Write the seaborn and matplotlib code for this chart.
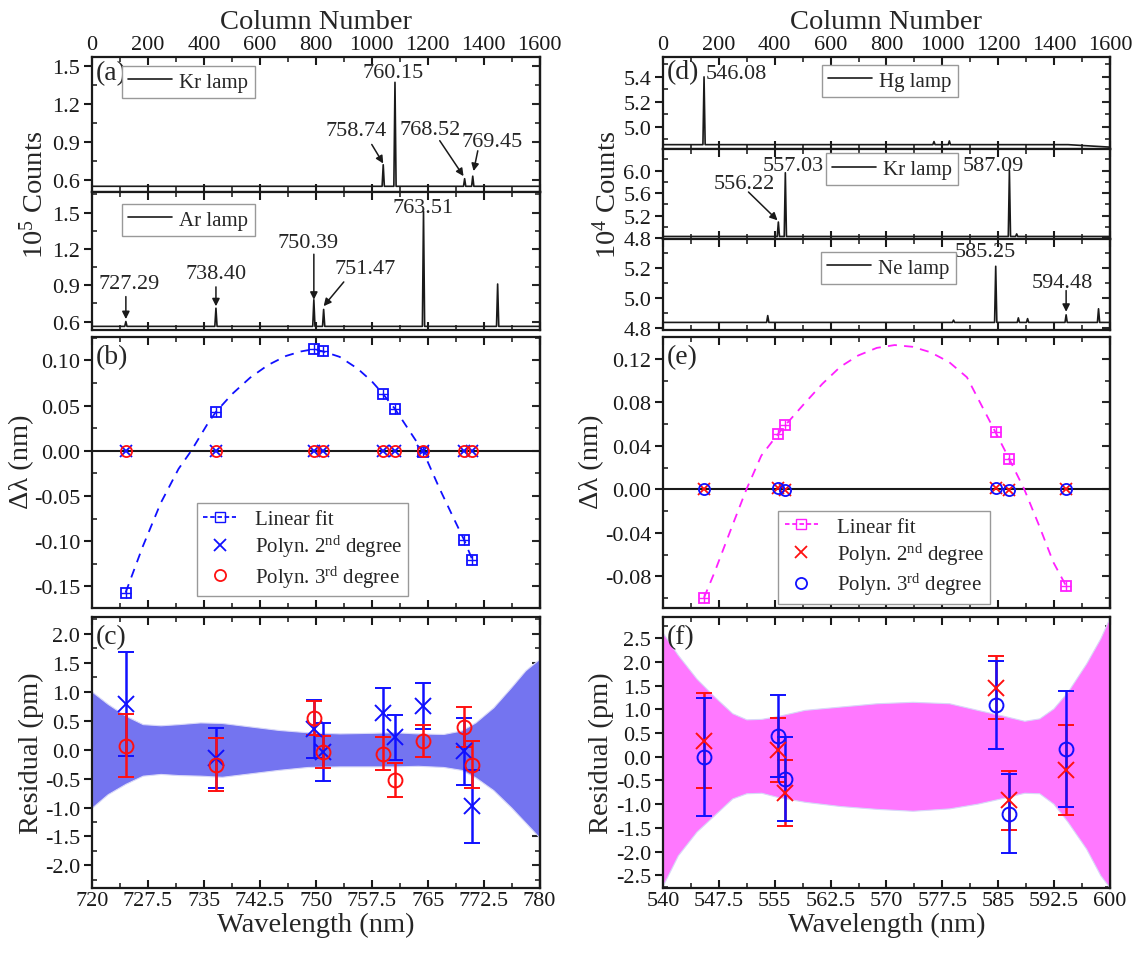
import matplotlib
matplotlib.use("Agg")
import matplotlib.pyplot as plt
import seaborn as sns
from matplotlib.lines import Line2D
from matplotlib.ticker import MultipleLocator, FormatStrFormatter

sns.set_theme(style="ticks")
plt.rcParams["font.family"] = ["Liberation Serif", "DejaVu Serif"]
plt.rcParams["mathtext.fontset"] = "custom"
plt.rcParams["mathtext.rm"] = "Liberation Serif"
plt.rcParams["mathtext.it"] = "Liberation Serif:italic"
plt.rcParams["axes.unicode_minus"] = False

# ---- spectra (column number, counts) ----
kr_left_cols = [1041, 1083, 1332, 1361]
kr_left_peaks = [0.72, 1.37, 0.61, 0.63]
kr_left_base = 0.55
ar_cols = [121, 443, 793, 828, 1185, 1450]
ar_peaks = [0.60, 0.71, 0.78, 0.70, 1.51, 0.91]
ar_base = 0.56

hg_cols = [147, 970, 1025]
hg_peaks = [5.40, 4.88, 4.885]
hg_base = 4.855
hg_end = 4.835
kr_right_cols = [413, 438, 1240, 1266]
kr_right_peaks = [5.09, 5.96, 6.0, 4.88]
kr_right_base = 4.835
ne_cols = [375, 1040, 1191, 1272, 1305, 1443, 1559]
ne_peaks = [4.885, 4.855, 5.21, 4.87, 4.865, 4.89, 4.93]
ne_base = 4.84

# ---- deviations, left (Kr/Ar) ----
left_pos = [724.5, 736.6, 749.7, 751.0, 759.0, 760.6, 764.4, 769.9, 771.0]
left_linear = [-0.157, 0.043, 0.1125, 0.110, 0.063, 0.0465, -0.001, -0.099, -0.121]
left_poly2 = [0.0, 0.0, 0.0, 0.0, 0.0, 0.0, 0.0, 0.0, 0.0]
left_poly3 = [0.0, 0.0, 0.0, 0.0, 0.0, 0.0, 0.0, 0.0, 0.0]
left_curve_x = [724.5, 726.8, 729.2, 731.6, 733.3, 735.5, 736.6, 738.8, 741.2, 743.6,
                746.0, 748.0, 749.7, 751.0, 753.2, 755.6, 757.5, 759.0, 760.6, 762.8,
                764.4, 766.6, 768.5, 769.9, 771.0]
left_curve_y = [-0.157, -0.106, -0.058, -0.020, 0.0, 0.030, 0.043, 0.063, 0.081, 0.095,
                0.105, 0.110, 0.1125, 0.110, 0.104, 0.091, 0.077, 0.063, 0.0465, 0.019,
                -0.001, -0.042, -0.075, -0.099, -0.121]

# residuals, left (pm)
left_res2 = [0.79, -0.15, 0.35, -0.04, 0.64, 0.21, 0.75, -0.03, -0.98]
left_err2 = [0.90, 0.52, 0.50, 0.50, 0.42, 0.39, 0.40, 0.58, 0.63]
left_res3 = [0.07, -0.26, 0.55, -0.04, -0.07, -0.52, 0.15, 0.39, -0.26]
left_err3 = [0.54, 0.46, 0.29, 0.28, 0.29, 0.29, 0.27, 0.34, 0.40]
left_band_x = [720, 722.1, 724.5, 726.8, 729.2, 731.6, 734.5, 737.4, 741.2, 745.0, 748.9,
               753.2, 757.5, 760.4, 763.7, 767.1, 769.5, 771.4, 773.8, 776.2, 778.1, 780]
left_band_hi = [1.0, 0.79, 0.585, 0.44, 0.42, 0.44, 0.47, 0.46, 0.40, 0.34, 0.30,
                0.28, 0.29, 0.30, 0.28, 0.27, 0.33, 0.47, 0.73, 1.08, 1.37, 1.57]
left_band_lo = [-1.0, -0.77, -0.59, -0.45, -0.42, -0.44, -0.45, -0.47, -0.41, -0.35, -0.30,
                -0.29, -0.29, -0.29, -0.28, -0.30, -0.35, -0.48, -0.70, -1.0, -1.26, -1.52]

# ---- deviations, right (Hg/Kr/Ne) ----
right_pos = [545.5, 555.4, 556.4, 584.65, 586.5, 594.1]
right_linear = [-0.0997, 0.0505, 0.0588, 0.0523, 0.0277, -0.0886]
right_poly2 = [0.0, 0.001, -0.001, 0.001, -0.001, 0.0]
right_poly3 = [0.0, 0.001, -0.001, 0.001, -0.001, 0.0]
right_curve_x = [545.5, 546.9, 549.3, 551.2, 553.2, 555.4, 556.4, 559.0, 561.4, 563.8,
                 566.2, 568.7, 571.1, 573.5, 575.9, 578.4, 580.8, 583.0, 584.65, 586.5,
                 588.5, 590.5, 592.4, 594.1]
right_curve_y = [-0.0997, -0.0766, -0.0335, 0.0, 0.031, 0.0505, 0.0588, 0.079, 0.097, 0.1126,
                 0.123, 0.130, 0.1326, 0.131, 0.126, 0.117, 0.103, 0.074, 0.0523, 0.0277,
                 0.0, -0.0335, -0.067, -0.0886]

right_res2 = [0.34, 0.14, -0.77, 1.46, -0.92, -0.27]
right_err2 = [1.00, 0.67, 0.70, 0.66, 0.63, 0.95]
right_res3 = [0.0, 0.44, -0.47, 1.09, -1.20, 0.16]
right_err3 = [1.24, 0.86, 0.89, 0.93, 0.83, 1.22]
right_band_x = [540, 542.0, 544.5, 546.9, 549.3, 551.2, 553.2, 555.4, 559.0, 563.8, 568.7,
                573.5, 578.4, 582.2, 585.6, 588.5, 590.5, 592.4, 594.3, 596.8, 598.7, 600]
right_band_hi = [2.61, 2.15, 1.65, 1.27, 0.92, 0.79, 0.80, 0.86, 0.99, 1.06, 1.13,
                 1.16, 1.13, 0.99, 0.87, 0.76, 0.81, 1.02, 1.37, 1.97, 2.5, 2.96]
right_band_lo = [-2.71, -2.08, -1.58, -1.23, -0.88, -0.77, -0.76, -0.85, -0.95, -1.04, -1.10,
                 -1.14, -1.09, -0.99, -0.87, -0.76, -0.77, -0.99, -1.37, -1.94, -2.5, -2.77]

BLUE = "#1010ff"
RED = "#ff1010"
MAG = "#ff20ff"
H = 954
TICK_FS = 16
LABEL_FS = 20.5


def rect(x0, w, top, bottom):
    return [x0, 1 - bottom / H, w, (bottom - top) / H]


def spectrum(cols, peaks, base, end=None, hw=4):
    xs, ys = [0], [base]
    for c, p in sorted(zip(cols, peaks)):
        xs += [c - hw, c, c + hw]
        ys += [base, p, base]
    if end is not None:
        xs.append(1450)
        ys.append(base)
    xs.append(1600)
    ys.append(base if end is None else end)
    return xs, ys


def style(ax, xmaj, xmin, ymaj, ymin, yfmt, xfmt="%g"):
    ax.xaxis.set_major_locator(MultipleLocator(xmaj))
    ax.xaxis.set_minor_locator(MultipleLocator(xmin))
    ax.xaxis.set_major_formatter(FormatStrFormatter(xfmt))
    ax.yaxis.set_major_locator(MultipleLocator(ymaj))
    ax.yaxis.set_minor_locator(MultipleLocator(ymin))
    ax.yaxis.set_major_formatter(FormatStrFormatter(yfmt))
    ax.tick_params(axis="x", which="both", direction="in", top=True, bottom=True)
    ax.tick_params(axis="y", which="major", direction="out", left=True, right=False)
    ax.tick_params(axis="y", which="minor", direction="in", left=True, right=False)
    ax.tick_params(which="major", length=6, width=1.5, labelsize=TICK_FS, pad=2.5, colors="k")
    ax.tick_params(which="minor", length=3.5, width=1.2)
    for s in ax.spines.values():
        s.set_linewidth(1.6)
        s.set_color("k")
    sec = ax.secondary_yaxis("right")
    sec.yaxis.set_major_locator(MultipleLocator(ymaj))
    sec.yaxis.set_minor_locator(MultipleLocator(ymin))
    sec.tick_params(which="both", direction="in", labelright=False)
    sec.tick_params(which="major", length=6, width=1.5)
    sec.tick_params(which="minor", length=3.5, width=1.2)
    sec.spines["right"].set_linewidth(1.6)


def lamp_legend(ax, x, y):
    ax.legend(loc="upper left", bbox_to_anchor=(x, y), fontsize=15, frameon=True,
              fancybox=False, edgecolor="#999999", framealpha=1, handlelength=2.1,
              borderpad=0.3, handletextpad=0.35, borderaxespad=0)


def arrow(ax, tail, tip):
    ax.annotate("", xy=tip, xytext=tail,
                arrowprops=dict(arrowstyle="-|>", color="k", lw=1.1,
                                mutation_scale=11, shrinkA=0, shrinkB=0))


def label(ax, txt):
    ax.text(0.008, 0.975, txt, transform=ax.transAxes, ha="left", va="top", fontsize=20)


fig = plt.figure(figsize=(11.36, 9.54), dpi=100)
LX, LW = 0.081, 0.394
RX, RW = 0.5836, 0.3935

ax_kr = fig.add_axes(rect(LX, LW, 58, 193))
ax_ar = fig.add_axes(rect(LX, LW, 193, 331))
ax_b = fig.add_axes(rect(LX, LW, 338, 609))
ax_c = fig.add_axes(rect(LX, LW, 618, 889))
ax_hg = fig.add_axes(rect(RX, RW, 58, 150))
ax_kr2 = fig.add_axes(rect(RX, RW, 150, 240))
ax_ne = fig.add_axes(rect(RX, RW, 240, 331))
ax_e = fig.add_axes(rect(RX, RW, 338, 609))
ax_f = fig.add_axes(rect(RX, RW, 618, 889))

# ---------- spectra ----------
spectra = [
    (ax_kr, spectrum(kr_left_cols, kr_left_peaks, kr_left_base), "Kr lamp", (0.505, 1.57), 0.3, 0.15, (0.067, 0.935)),
    (ax_ar, spectrum(ar_cols, ar_peaks, ar_base), "Ar lamp", (0.53, 1.67), 0.3, 0.15, (0.067, 0.915)),
    (ax_hg, spectrum(hg_cols, hg_peaks, hg_base, end=hg_end), "Hg lamp", (4.82, 5.56), 0.2, 0.1, (0.355, 0.915)),
    (ax_kr2, spectrum(kr_right_cols, kr_right_peaks, kr_right_base), "Kr lamp", (4.79, 6.38), 0.4, 0.2, (0.364, 0.955)),
    (ax_ne, spectrum(ne_cols, ne_peaks, ne_base), "Ne lamp", (4.79, 5.39), 0.2, 0.1, (0.353, 0.86)),
]
for ax, (xs, ys), name, ylim, ymaj, ymin, lpos in spectra:
    sns.lineplot(x=xs, y=ys, ax=ax, color="k", lw=1.2, sort=False, estimator=None, label=name)
    ax.set_xlim(0, 1600)
    ax.set_ylim(*ylim)
    style(ax, 200, 100, ymaj, ymin, "%.1f")
    ax.set_xlabel("")
    ax.set_ylabel("")
    ax.tick_params(axis="x", labelbottom=False)
    lamp_legend(ax, *lpos)

for ax in (ax_kr, ax_hg):
    ax.tick_params(axis="x", labeltop=True)
    ax.xaxis.set_label_position("top")
    ax.set_xlabel("Column Number", fontsize=LABEL_FS, labelpad=5)

label(ax_kr, "(a)")
label(ax_hg, "(d)")

ann = dict(ha="center", va="center", fontsize=16)
for txt, x, y in [("758.74", 945, 0.99), ("760.15", 1077, 1.445),
                  ("768.52", 1208, 0.998), ("769.45", 1432, 0.90)]:
    ax_kr.text(x, y, txt, **ann)
arrow(ax_kr, (1000, 0.88), (1041, 0.73))
arrow(ax_kr, (1243, 0.91), (1328, 0.63))
arrow(ax_kr, (1379, 0.83), (1364, 0.67))

for txt, x, y in [("727.29", 132, 0.915), ("738.40", 442, 1.0), ("750.39", 773, 1.25),
                  ("751.47", 977, 1.035), ("763.51", 1183, 1.545)]:
    ax_ar.text(x, y, txt, **ann)
arrow(ax_ar, (121, 0.806), (121, 0.62))
arrow(ax_ar, (443, 0.886), (443, 0.726))
arrow(ax_ar, (793, 1.156), (793, 0.78))
arrow(ax_ar, (900, 0.927), (828, 0.727))

ax_hg.text(261, 5.43, "546.08", **ann)
for txt, x, y in [("557.03", 468, 6.08), ("556.22", 291, 5.77), ("587.09", 1182, 6.08)]:
    ax_kr2.text(x, y, txt, **ann)
arrow(ax_kr2, (306, 5.62), (410, 5.12))
for txt, x, y in [("585.25", 1152, 5.31), ("594.48", 1428, 5.10)]:
    ax_ne.text(x, y, txt, **ann)
arrow(ax_ne, (1443, 5.05), (1443, 4.91))


# ---------- deviation panels ----------
def deviation(ax, pos, lin, p2, p3, cx, cy, c_lin, c2, c3, ylim, ymaj, ymin, leg_pos):
    ax.axhline(0, color="k", lw=1.5, zorder=1)
    sns.lineplot(x=cx, y=cy, ax=ax, color=c_lin, lw=1.3, sort=False, estimator=None,
                 dashes=False, linestyle=(0, (5, 4)), zorder=2)
    ax.plot(pos, lin, "s", ms=7, mfc="none", mec=c_lin, mew=1.3, zorder=3)
    ax.plot(pos, lin, "+", ms=7, mec=c_lin, mew=1.0, zorder=3)
    ax.plot(pos, p2, "x", ms=9, mec=c2, mew=1.3, zorder=4)
    ax.plot(pos, p3, "o", ms=8, mfc="none", mec=c3, mew=1.3, zorder=5)
    ax.set_ylim(*ylim)
    handles = [
        Line2D([], [], color=c_lin, lw=1.3, linestyle=(0, (2.5, 1.5)), marker="s", ms=7,
               mfc="none", mec=c_lin),
        Line2D([], [], lw=0, marker="x", ms=9, mec=c2, mew=1.3),
        Line2D([], [], lw=0, marker="o", ms=8, mfc="none", mec=c3, mew=1.3),
    ]
    ax.legend(handles, ["Linear fit", r"Polyn. 2$^{\mathrm{nd}}$ degree",
                        r"Polyn. 3$^{\mathrm{rd}}$ degree"],
              loc="upper left", bbox_to_anchor=leg_pos, fontsize=15, fancybox=False,
              edgecolor="#999999", framealpha=1, handlelength=1.6, borderpad=0.3,
              labelspacing=0.2, handletextpad=0.9, borderaxespad=0)
    ax.set_xlabel("")
    ax.set_ylabel("")
    style(ax, 7.5, 3.75, ymaj, ymin, "%.2f")
    ax.tick_params(axis="x", labelbottom=False)


deviation(ax_b, left_pos, left_linear, left_poly2, left_poly3, left_curve_x, left_curve_y,
          BLUE, BLUE, RED, (-0.174, 0.126), 0.05, 0.025, (0.234, 0.387))
ax_b.set_xlim(720, 780)
deviation(ax_e, right_pos, right_linear, right_poly2, right_poly3, right_curve_x, right_curve_y,
          MAG, RED, BLUE, (-0.109, 0.14), 0.04, 0.02, (0.258, 0.359))
ax_e.set_xlim(540, 600)
label(ax_b, "(b)")
label(ax_e, "(e)")


# ---------- residual panels ----------
def residual(ax, pos, r2, e2, r3, e3, bx, blo, bhi, fill, c2, c3, ylim, xlim):
    ax.fill_between(bx, blo, bhi, color=fill, lw=0.8, edgecolor="#d8d8f8", zorder=1)
    for r, e, c, m in [(r2, e2, c2, "x"), (r3, e3, c3, "o")]:
        ax.errorbar(pos, r, yerr=e, fmt=m, color=c, ms=12 if m == "x" else 10,
                    mfc="none", mec=c, mew=1.4, elinewidth=1.8, capsize=6, capthick=1.8,
                    zorder=3)
    ax.set_xlim(*xlim)
    ax.set_ylim(*ylim)
    style(ax, 7.5, 3.75, 0.5, 0.25, "%.1f")
    ax.set_xlabel("Wavelength (nm)", fontsize=LABEL_FS, labelpad=1)


residual(ax_c, left_pos, left_res2, left_err2, left_res3, left_err3, left_band_x,
         left_band_lo, left_band_hi, "#7474f0", BLUE, RED, (-2.39, 2.29), (720, 780))
residual(ax_f, right_pos, right_res2, right_err2, right_res3, right_err3, right_band_x,
         right_band_lo, right_band_hi, "#ff78ff", RED, BLUE, (-2.77, 2.95), (540, 600))
label(ax_c, "(c)")
label(ax_f, "(f)")

# shared y labels
ylab = dict(rotation=90, ha="center", va="center", fontsize=LABEL_FS)
fig.text(34 / 1136, 1 - 195 / H, r"10$^5$ Counts", **ylab)
fig.text(22 / 1136, 1 - 462 / H, "Δλ (nm)", **ylab)
fig.text(31 / 1136, 1 - 753 / H, "Residual (pm)", **ylab)
fig.text(607 / 1136, 1 - 195 / H, r"10$^4$ Counts", **ylab)
fig.text(592 / 1136, 1 - 462 / H, "Δλ (nm)", **ylab)
fig.text(601 / 1136, 1 - 753 / H, "Residual (pm)", **ylab)

fig.savefig("out.png", dpi=100)
